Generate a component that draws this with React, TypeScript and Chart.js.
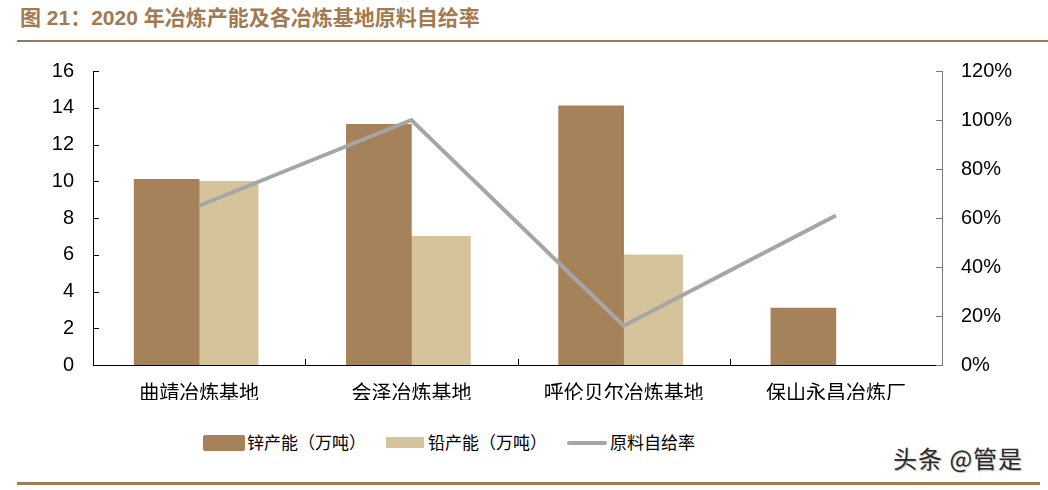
import React, { useEffect, useRef } from "react";
import { Chart, registerables } from "chart.js";

Chart.register(...registerables);

const categories = ["曲靖冶炼基地", "会泽冶炼基地", "呼伦贝尔冶炼基地", "保山永昌冶炼厂"];
const zincCapacity = [10.1, 13.1, 14.1, 3.1];
const leadCapacity: (number | null)[] = [10, 7, 6, null];
const selfSufficiency = [65, 100, 16, 61];

const leftAxisMax = 16;
const leftAxisStep = 2;
const rightAxisMax = 120;
const rightAxisStep = 20;

const seriesNames = ["锌产能（万吨）", "铅产能（万吨）", "原料自给率"];
const titleText = "图 21：2020 年冶炼产能及各冶炼基地原料自给率";
const watermark = "头条 @管是";

const ZINC = "#a6825a";
const LEAD = "#d4c39b";
const RATE = "#a6a6a6";
const BROWN = "#a27a52";

const innerTicks = {
  id: "innerTicks",
  afterDraw(chart: any) {
    const ctx = chart.ctx;
    const { x, y, y1 } = chart.scales;
    ctx.save();
    ctx.lineWidth = 1;
    ctx.strokeStyle = "#000";
    y.ticks.forEach((_: any, i: number) => {
      const py = Math.round(y.getPixelForTick(i)) + 0.5;
      ctx.beginPath();
      ctx.moveTo(y.right, py);
      ctx.lineTo(y.right + 6, py);
      ctx.stroke();
    });
    ctx.strokeStyle = "#7a7a7a";
    y1.ticks.forEach((_: any, i: number) => {
      const py = Math.round(y1.getPixelForTick(i)) + 0.5;
      ctx.beginPath();
      ctx.moveTo(y1.left - 6, py);
      ctx.lineTo(y1.left, py);
      ctx.stroke();
    });
    ctx.strokeStyle = "#000";
    for (let i = 0; i < categories.length - 1; i++) {
      const px = Math.round((x.getPixelForTick(i) + x.getPixelForTick(i + 1)) / 2) + 0.5;
      ctx.beginPath();
      ctx.moveTo(px, x.top);
      ctx.lineTo(px, x.top - 6);
      ctx.stroke();
    }
    ctx.restore();
  },
};

function ChartCanvas() {
  const ref = useRef<HTMLCanvasElement | null>(null);
  useEffect(() => {
    if (!ref.current) return;
    const chart = new Chart(ref.current, {
      type: "bar",
      data: {
        labels: categories,
        datasets: [
          {
            type: "line",
            label: seriesNames[2],
            data: selfSufficiency,
            yAxisID: "y1",
            borderColor: RATE,
            backgroundColor: RATE,
            borderWidth: 4,
            pointRadius: 0,
            tension: 0,
            order: 0,
          } as any,
          {
            type: "bar",
            label: seriesNames[0],
            data: zincCapacity,
            yAxisID: "y",
            backgroundColor: ZINC,
            barThickness: 65,
            order: 1,
          },
          {
            type: "bar",
            label: seriesNames[1],
            data: leadCapacity,
            yAxisID: "y",
            backgroundColor: LEAD,
            barThickness: 59,
            order: 2,
          },
        ],
      },
      options: {
        responsive: false,
        animation: false,
        layout: { padding: { top: 71, left: 0, right: 0, bottom: 0 } },
        plugins: {
          legend: { display: false },
          tooltip: { enabled: false },
          title: { display: false },
        },
        scales: {
          x: {
            offset: true,
            grid: { display: false, drawTicks: false },
            border: { display: true, color: "#000", width: 1 },
            ticks: {
              color: "#000",
              padding: 15,
              maxRotation: 0,
              autoSkip: false,
              font: { family: "'Noto Sans CJK SC', sans-serif", size: 20 },
            },
            afterFit(scale: any) {
              scale.height = 35;
            },
          },
          y: {
            position: "left",
            min: 0,
            max: leftAxisMax,
            grid: { display: false, drawTicks: false },
            border: { display: true, color: "#000", width: 1 },
            ticks: {
              stepSize: leftAxisStep,
              color: "#000",
              padding: 19,
              font: { family: "'Liberation Sans', Arial, sans-serif", size: 20 },
            },
            afterFit(scale: any) {
              scale.width = 93;
            },
          },
          y1: {
            position: "right",
            min: 0,
            max: rightAxisMax,
            grid: { display: false, drawTicks: false },
            border: { display: true, color: "#7a7a7a", width: 1 },
            ticks: {
              stepSize: rightAxisStep,
              color: "#000",
              padding: 19,
              font: { family: "'Liberation Sans', Arial, sans-serif", size: 20 },
              callback: (v: any) => `${v}%`,
            },
            afterFit(scale: any) {
              scale.width = 106;
            },
          },
        },
      },
      plugins: [innerTicks],
    });
    return () => chart.destroy();
  }, []);
  return (
    <canvas
      ref={ref}
      width={1048}
      height={400}
      style={{ position: "absolute", left: 0, top: 0, width: 1048, height: 400 }}
    />
  );
}

export default function App() {
  const cjk = "'Noto Sans CJK SC', sans-serif";
  const legendText: React.CSSProperties = {
    position: "absolute",
    top: 430,
    height: 24,
    lineHeight: "24px",
    fontFamily: cjk,
    fontSize: 17,
    color: "#000",
    whiteSpace: "nowrap",
  };
  return (
    <div
      style={{
        position: "fixed",
        left: 0,
        top: 0,
        width: 1048,
        height: 490,
        background: "#fff",
        overflow: "hidden",
      }}
    >
      <div
        style={{
          position: "absolute",
          left: 20,
          top: 5,
          height: 26,
          lineHeight: "26px",
          fontFamily: `'Liberation Sans', ${cjk}`,
          fontWeight: 700,
          fontSize: 21,
          color: BROWN,
          whiteSpace: "nowrap",
        }}
      >
        {titleText}
      </div>
      <div style={{ position: "absolute", left: 17, top: 40, width: 1031, height: 2, background: BROWN }} />
      <div style={{ position: "absolute", left: 17, top: 40, width: 16, height: 2, background: "#8c7a66" }} />
      <ChartCanvas />
      <div style={{ position: "absolute", left: 203, top: 435, width: 42, height: 16, background: ZINC, borderRadius: 2 }} />
      <div style={{ ...legendText, left: 247 }}>{seriesNames[0]}</div>
      <div style={{ position: "absolute", left: 386, top: 437, width: 38, height: 11, background: LEAD }} />
      <div style={{ ...legendText, left: 428 }}>{seriesNames[1]}</div>
      <div style={{ position: "absolute", left: 567, top: 441, width: 40, height: 4, background: RATE, borderRadius: 2 }} />
      <div style={{ ...legendText, left: 610 }}>{seriesNames[2]}</div>
      <div
        style={{
          position: "absolute",
          left: 893,
          top: 443,
          height: 30,
          lineHeight: "30px",
          fontFamily: cjk,
          fontSize: 24,
          letterSpacing: 1,
          color: "#2a2a2a",
          whiteSpace: "nowrap",
          textShadow: "1px 1px 1px #bbb",
        }}
      >
        {watermark}
      </div>
      <div style={{ position: "absolute", left: 17, top: 482, width: 1023, height: 3, background: BROWN }} />
    </div>
  );
}
